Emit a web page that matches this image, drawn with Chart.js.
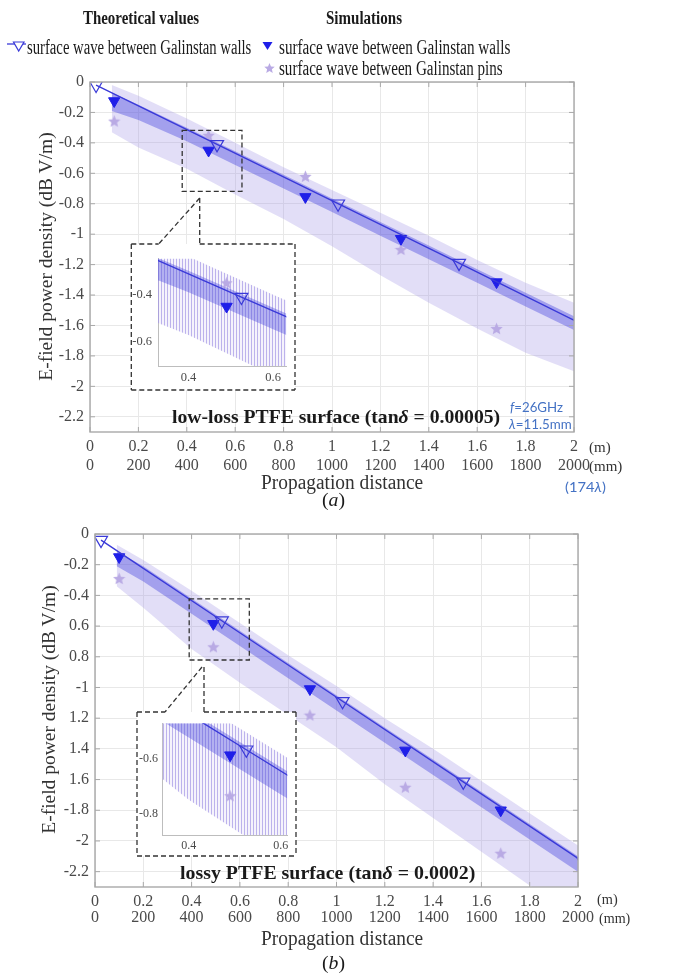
<!DOCTYPE html>
<html><head><meta charset="utf-8">
<script src="https://cdn.jsdelivr.net/npm/chart.js@4.4.1/dist/chart.umd.min.js"></script>
<style>
html,body{margin:0;padding:0;background:#fff;}
body{width:673px;height:975px;position:relative;overflow:hidden;font-family:"Liberation Serif","Times New Roman",serif;color:#1a1a1a;}
canvas{position:absolute;}
.t{position:absolute;white-space:nowrap;line-height:1;}
.wb{position:absolute;background:#fff;}
svg{position:absolute;left:0;top:0;}
.blue{color:#4472c4;font-family:"Lato","Open Sans",sans-serif;}
.g{color:#333;}
</style></head><body>
<canvas id="cA" width="673" height="440" style="left:0;top:60px"></canvas>
<canvas id="cB" width="673" height="470" style="left:0;top:500px"></canvas>
<div class="wb" style="left:131px;top:244px;width:164px;height:146px"></div>
<div class="wb" style="left:137px;top:712px;width:159px;height:144px"></div>
<canvas id="iA" width="164" height="145" style="left:131px;top:245px"></canvas>
<canvas id="iB" width="160" height="144" style="left:136px;top:712px"></canvas>
<svg width="673" height="975">
 <g stroke="#333" stroke-width="1.3" stroke-dasharray="5,3" fill="none">
  <line x1="131.3" y1="244" x2="158.7" y2="244"/><line x1="199.7" y1="244" x2="295" y2="244"/>
  <line x1="131.3" y1="244" x2="131.3" y2="390"/><line x1="295" y1="244" x2="295" y2="390"/>
  <line x1="131.3" y1="390" x2="295" y2="390"/>
  <line x1="199.7" y1="198" x2="158.7" y2="244"/><line x1="199.7" y1="198" x2="199.7" y2="244"/>
  <line x1="137" y1="712" x2="165" y2="712"/><line x1="204" y1="712" x2="296" y2="712"/>
  <line x1="137" y1="712" x2="137" y2="856"/><line x1="296" y1="712" x2="296" y2="856"/>
  <line x1="137" y1="856" x2="296" y2="856"/>
  <line x1="202" y1="667" x2="165" y2="712"/><line x1="204" y1="667" x2="204" y2="712"/>
 </g>
 <line x1="7" y1="44" x2="26" y2="44" stroke="#3a3ad8" stroke-width="1.3"/>
 <polygon points="13.5,42 24,42 18.7,51" fill="#fff" stroke="#3a3ad8" stroke-width="1.2"/>
 <polygon points="262.5,42 272.5,42 267.5,50" fill="#1f1fe8"/>
 <polygon id="legStar" fill="#b9aae4"/>
</svg>

<div class="t" data-l="83" data-r="199" data-y="18" style="font-weight:bold;font-size:18px">Theoretical values</div>
<div class="t" data-l="326" data-r="402" data-y="18" style="font-weight:bold;font-size:18px">Simulations</div>
<div class="t" data-l="27" data-r="251" data-y="47" style="font-size:20px">surface wave between Galinstan walls</div>
<div class="t" data-l="279" data-r="510" data-y="47" style="font-size:20px">surface wave between Galinstan walls</div>
<div class="t" data-l="279" data-r="503" data-y="68" style="font-size:20px">surface wave between Galinstan pins</div>

<div class="t" data-l="172" data-r="500" data-y="416" style="font-weight:bold;font-size:19px">low-loss PTFE surface (tan<i>δ</i> = 0.00005)</div>
<div class="t" data-l="180" data-r="475" data-y="872" style="font-weight:bold;font-size:19px">lossy PTFE surface (tan<i>δ</i> = 0.0002)</div>
<div class="t blue" data-l="510" data-r="563" data-y="407" style="font-size:14px"><i>f</i>=26GHz</div>
<div class="t blue" data-l="509" data-r="572" data-y="424" style="font-size:14px"><i>λ</i>=11.5mm</div>
<div class="t blue" data-l="565" data-r="606" data-y="487" style="font-size:14px">(174<i>λ</i>)</div>

<div class="t g" data-l="589" data-r="611" data-y="447" style="font-size:15px">(m)</div>
<div class="t g" data-l="589" data-r="622" data-y="466" style="font-size:15px">(mm)</div>
<div class="t g" data-l="597" data-r="618" data-y="899" style="font-size:15px">(m)</div>
<div class="t g" data-l="599" data-r="630" data-y="918" style="font-size:15px">(mm)</div>

<div class="t g" data-l="261" data-r="423" data-y="482" style="font-size:20px">Propagation distance</div>
<div class="t g" data-l="261" data-r="423" data-y="938" style="font-size:20px">Propagation distance</div>
<div class="t" data-l="322" data-r="345" data-y="500" style="font-size:18px">(<i>a</i>)</div>
<div class="t" data-l="322" data-r="345" data-y="963" style="font-size:18px">(<i>b</i>)</div>

<div class="t g rot" data-cx="45" data-t="132" data-b="380" style="font-size:19px">E-field power density (dB V/m)</div>
<div class="t g rot" data-cx="48" data-t="585" data-b="833" style="font-size:19px">E-field power density (dB V/m)</div>

<script>
// ---------- data ----------
const xTicks   = [0,0.2,0.4,0.6,0.8,1,1.2,1.4,1.6,1.8,2];
const xLabM    = ['0','0.2','0.4','0.6','0.8','1','1.2','1.4','1.6','1.8','2'];
const xLabMM   = ['0','200','400','600','800','1000','1200','1400','1600','1800','2000'];
const yTicks   = [0,-0.2,-0.4,-0.6,-0.8,-1,-1.2,-1.4,-1.6,-1.8,-2,-2.2];
const yLabA    = ['0','-0.2','-0.4','-0.6','-0.8','-1','-1.2','-1.4','-1.6','-1.8','-2','-2.2'];
const yLabB    = ['0','-0.2','-0.4','0.6','0.8','-1','1.2','1.4','1.6','-1.8','-2','-2.2'];
const insetXTicks = [0.4,0.6];
const insetXLab   = ['0.4','0.6'];
const insetAYTicks = [-0.4,-0.6];
const insetAYLab   = ['-0.4','-0.6'];
const insetBYTicks = [-0.6,-0.8];
const insetBYLab   = ['-0.6','-0.8'];

// theoretical (open triangles on line)
const theoX  = [0.025,0.525,1.025,1.525,2.025];
const theoAY = [-0.02,-0.41,-0.80,-1.19,-1.585];
const theoBY = [-0.04,-0.565,-1.09,-1.615,-2.14];
// simulation markers
const simX    = [0.10,0.49,0.89,1.285,1.68];
const wallsAY = [-0.125,-0.45,-0.755,-1.03,-1.315];
const pinsAY  = [-0.257,-0.35,-0.62,-1.10,-1.62];
const wallsBY = [-0.15,-0.585,-1.01,-1.41,-1.80];
const pinsBY  = [-0.29,-0.735,-1.18,-1.65,-2.08];
// envelopes of the dense simulated traces
const bandX    = [0.09,0.2,0.4,0.6,0.8,1.0,1.2,1.4,1.6,1.8,2.0];
const lavTopA  = [-0.02,-0.09,-0.24,-0.40,-0.56,-0.71,-0.86,-1.01,-1.17,-1.32,-1.45];
const lavBotA  = [-0.33,-0.43,-0.57,-0.74,-0.90,-1.08,-1.27,-1.45,-1.62,-1.78,-1.90];
const darkTopA = [-0.07,-0.15,-0.30,-0.455,-0.61,-0.765,-0.92,-1.075,-1.23,-1.385,-1.54];
const darkBotA = [-0.19,-0.25,-0.39,-0.545,-0.70,-0.855,-1.01,-1.165,-1.32,-1.475,-1.63];
const lavTopB  = [-0.07,-0.17,-0.37,-0.58,-0.79,-0.99,-1.20,-1.40,-1.61,-1.82,-2.03];
const lavBotB  = [-0.34,-0.48,-0.75,-0.97,-1.18,-1.39,-1.63,-1.85,-2.07,-2.29,-2.51];
const darkTopB = [-0.11,-0.21,-0.42,-0.63,-0.84,-1.05,-1.26,-1.47,-1.68,-1.89,-2.10];
const darkBotB = [-0.21,-0.31,-0.52,-0.73,-0.94,-1.15,-1.36,-1.57,-1.78,-1.99,-2.20];

// ---------- helpers ----------
const BLUE='#3a3ad8', FILLED='#1f1fe8', STAR='#b9aae4';
const pts=(xs,ys)=>xs.map((x,i)=>({x,y:ys[i]}));
function pattern(id,w,cols){
  const c=document.createElement('canvas'); c.width=w; c.height=1;
  const x=c.getContext('2d'); cols.forEach((col,i)=>{ if(col){x.fillStyle=col;x.fillRect(i,0,1,1);} });
  return document.getElementById(id).getContext('2d').createPattern(c,'repeat');
}
function starCanvas(size,color){
  const c=document.createElement('canvas'); c.width=c.height=size;
  const x=c.getContext('2d'); const r=size/2, ri=r*0.45;
  x.beginPath();
  for(let i=0;i<10;i++){const a=-Math.PI/2+i*Math.PI/5, rr=i%2?ri:r; x.lineTo(r+rr*Math.cos(a), r+0.08*r+rr*Math.sin(a));}
  x.closePath(); x.fillStyle=color; x.fill(); return c;
}
const starImg=starCanvas(13,STAR);
(function(){const cx=269.5,cy=68.5,r=5.5,ri=2.5;let p=[];for(let i=0;i<10;i++){const a=-Math.PI/2+i*Math.PI/5,rr=i%2?ri:r;p.push((cx+rr*Math.cos(a)).toFixed(2)+','+(cy+rr*Math.sin(a)).toFixed(2));}document.getElementById('legStar').setAttribute('points',p.join(' '));})();

const boxPlugin={id:'box',afterDatasetsDraw(c,a,o){
  if(!o.on) return;
  const {ctx,chartArea:ca,scales}=c; ctx.save();
  ctx.strokeStyle='#a8a8a8'; ctx.lineWidth=1.4;
  ctx.strokeRect(ca.left,ca.top,ca.right-ca.left,ca.bottom-ca.top);
  ctx.beginPath(); ctx.lineWidth=1;
  scales.x.ticks.forEach(t=>{const p=scales.x.getPixelForValue(t.value);ctx.moveTo(p,ca.bottom);ctx.lineTo(p,ca.bottom-5);ctx.moveTo(p,ca.top);ctx.lineTo(p,ca.top+5);});
  scales.y.ticks.forEach(t=>{const p=scales.y.getPixelForValue(t.value);ctx.moveTo(ca.left,p);ctx.lineTo(ca.left+5,p);ctx.moveTo(ca.right,p);ctx.lineTo(ca.right-5,p);});
  ctx.stroke();
  if(o.rect){
    const r=o.rect, x0=scales.x.getPixelForValue(r[0]), x1=scales.x.getPixelForValue(r[1]), y0=scales.y.getPixelForValue(r[2]), y1=scales.y.getPixelForValue(r[3]);
    ctx.strokeStyle='#333'; ctx.lineWidth=1.3; ctx.setLineDash([5,3]);
    ctx.strokeRect(x0,y0,x1-x0,y1-y0);
  }
  ctx.restore();
}};

function build(id,o){
  const lav=o.inset?pattern(id,3,['rgba(165,152,230,0.75)','rgba(200,190,240,0.18)','rgba(200,190,240,0.18)']):'rgba(168,154,230,0.33)';
  const dark=o.inset?'rgba(60,60,220,0.36)':'rgba(60,60,220,0.38)';
  return new Chart(document.getElementById(id),{
    type:'line',
    data:{datasets:[
      {data:pts(theoX,o.theo),borderColor:BLUE,borderWidth:1.4,pointStyle:'triangle',pointRotation:180,pointRadius:7.5,pointBorderColor:BLUE,pointBackgroundColor:'rgba(255,255,255,0)',pointBorderWidth:1.2,tension:0,fill:false},
      {data:pts(simX,o.walls),showLine:false,pointStyle:'triangle',pointRotation:180,pointRadius:6.5,pointBackgroundColor:FILLED,pointBorderColor:FILLED,pointBorderWidth:1,fill:false},
      {data:pts(simX,o.pins),showLine:false,pointStyle:starImg,pointRadius:6,fill:false},
      {data:pts(bandX,o.dT),borderWidth:0,pointRadius:0,fill:'+1',backgroundColor:dark,tension:0},
      {data:pts(bandX,o.dB),borderWidth:0,pointRadius:0,fill:false,tension:0},
      {data:pts(bandX,o.lT),borderWidth:0,pointRadius:0,fill:'+1',backgroundColor:lav,tension:0},
      {data:pts(bandX,o.lB),borderWidth:0,pointRadius:0,fill:false,tension:0}
    ]},
    options:{
      responsive:false,animation:false,events:[],
      layout:{padding:o.pad},
      plugins:{legend:{display:false},tooltip:{enabled:false},box:{on:!o.inset,rect:o.rect}},
      scales:{
        x:{type:'linear',min:o.xr[0],max:o.xr[1],
           afterBuildTicks:s=>{s.ticks=o.xt.map(v=>({value:v}));},
           afterFit:s=>{s.height=o.xh;},
           ticks:{autoSkip:false,maxRotation:0,padding:o.xpad,color:'#4a4a4a',
                  font:{family:'Liberation Serif',size:o.fs,lineHeight:o.lh},
                  callback:(v,i)=>o.xl2?[o.xl[i],o.xl2[i]]:o.xl[i]},
           grid:{display:!o.inset,color:'#e8e8e8',drawTicks:false},
           border:{display:!!o.inset,color:'#bdbdbd',width:1}},
        y:{type:'linear',min:o.yr[0],max:o.yr[1],
           afterBuildTicks:s=>{s.ticks=o.yt.map(v=>({value:v}));},
           afterFit:s=>{s.width=o.yw;},
           ticks:{autoSkip:false,padding:o.ypad,color:'#4a4a4a',
                  font:{family:'Liberation Serif',size:o.fs},
                  callback:(v,i)=>o.yl[i]},
           grid:{display:!o.inset,color:'#e8e8e8',drawTicks:false},
           border:{display:!!o.inset,color:'#bdbdbd',width:1}}
      }
    },
    plugins:[boxPlugin]
  });
}

build('cA',{theo:theoAY,walls:wallsAY,pins:pinsAY,dT:darkTopA,dB:darkBotA,lT:lavTopA,lB:lavBotA,
  pad:{left:0,top:22,right:99,bottom:18},xr:[0,2],yr:[-2.3,0],xt:xTicks,xl:xLabM,xl2:xLabMM,yt:yTicks,yl:yLabA,
  xh:50,yw:90,fs:16,lh:1.19,xpad:5,ypad:6,rect:[0.381,0.628,-0.318,-0.719]});
build('cB',{theo:theoBY,walls:wallsBY,pins:pinsBY,dT:darkTopB,dB:darkBotB,lT:lavTopB,lB:lavBotB,
  pad:{left:0,top:34,right:95,bottom:33},xr:[0,2],yr:[-2.3,0],xt:xTicks,xl:xLabM,xl2:xLabMM,yt:yTicks,yl:yLabB,
  xh:50,yw:95,fs:16,lh:1.04,xpad:6,ypad:6,rect:[0.39,0.639,-0.423,-0.821]});
build('iA',{inset:true,theo:theoAY,walls:wallsAY,pins:pinsAY,dT:darkTopA,dB:darkBotA,lT:lavTopA,lB:lavBotA,
  pad:{left:0,top:3,right:4,bottom:4},xr:[0.328,0.631],yr:[-0.70,-0.248],xt:insetXTicks,xl:insetXLab,yt:insetAYTicks,yl:insetAYLab,
  xh:20,yw:27,fs:12.5,lh:1.2,xpad:4,ypad:6});
build('iB',{inset:true,theo:theoBY,walls:wallsBY,pins:pinsBY,dT:darkTopB,dB:darkBotB,lT:lavTopB,lB:lavBotB,
  pad:{left:0,top:2,right:8,bottom:3},xr:[0.342,0.614],yr:[-0.88,-0.467],xt:insetXTicks,xl:insetXLab,yt:insetBYTicks,yl:insetBYLab,
  xh:18,yw:26,fs:12,lh:1.2,xpad:4,ypad:4});

// ---------- text placement ----------
document.querySelectorAll('.t').forEach(el=>{
  const w=el.offsetWidth,h=el.offsetHeight;
  if(el.classList.contains('rot')){
    const cx=+el.dataset.cx,t=+el.dataset.t,b=+el.dataset.b,cy=(t+b)/2,k=(b-t)/w;
    el.style.left=(cx-w/2)+'px'; el.style.top=(cy-h/2)+'px';
    el.style.transformOrigin='50% 50%'; el.style.transform='rotate(-90deg) scaleX('+k+')';
  }else{
    const L=+el.dataset.l,R=+el.dataset.r,Y=+el.dataset.y,k=(R-L)/w;
    el.style.left=L+'px'; el.style.top=(Y-h/2)+'px';
    el.style.transformOrigin='0 50%'; el.style.transform='scaleX('+k+')';
  }
});
</script>
</body></html>
